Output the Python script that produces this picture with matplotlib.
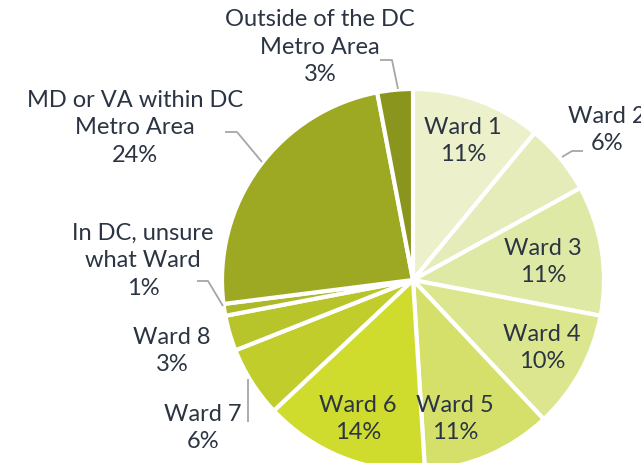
import matplotlib.pyplot as plt

# share of respondents by where they live
labels = ['Ward 1', 'Ward 2', 'Ward 3', 'Ward 4', 'Ward 5', 'Ward 6', 'Ward 7',
          'Ward 8', 'In DC, unsure\nwhat Ward', 'MD or VA within DC\nMetro Area',
          'Outside of the DC\nMetro Area']
shares = [11, 6, 11, 10, 11, 14, 6, 3, 1, 24, 3]
colors = ['#ecf1cc', '#e5ecba', '#dfe9a6', '#dbe68e', '#d5e06b', '#cfdc2e',
          '#c0cd2a', '#b7c42a', '#adb928', '#9da823', '#8a951d']

text_color = '#2b3442'
plt.rcParams['font.family'] = ['Lato', 'DejaVu Sans']

W, H = 641, 464
fig = plt.figure(figsize=(W / 100, H / 100), dpi=100)
ax = fig.add_axes([0, 0, 1, 1])

# pie centre and radius in pixel units (y grows downward)
cx, cy, r = 413, 281, 191
ax.pie(shares, colors=colors, startangle=-90, counterclock=True,
       center=(cx, cy), radius=r, frame=True,
       wedgeprops=dict(edgecolor='white', linewidth=3))
ax.set_xlim(0, W)
ax.set_ylim(H, 0)
ax.axis('off')

# label text positions (centre of the text block)
label_pos = {
    0: (463, 141),
    1: (607, 130),
    2: (543, 262),
    3: (542, 348),
    4: (455, 419),
    5: (358, 419),
    6: (203, 428),
    7: (172, 351),
    8: (143, 261),
    9: (135, 128),
    10: (320, 47),
}
for i, (x, y) in label_pos.items():
    ax.text(x, y, f'{labels[i]}\n{shares[i]}%', ha='center', va='center',
            fontsize=17, color=text_color, linespacing=1.4)

# leader lines for the labels outside the pie
leaders = [
    [(562, 158), (572, 152), (583, 152)],
    [(380, 61), (392, 61), (398, 90)],
    [(225, 133), (237, 133), (262, 163)],
    [(197, 282), (208, 282), (223, 307)],
    [(248, 380), (248, 423)],
]
for pts in leaders:
    xs, ys = zip(*pts)
    ax.plot(xs, ys, color='#a6a6a6', linewidth=1.3, solid_capstyle='butt')

fig.savefig('out.png', dpi=100)
